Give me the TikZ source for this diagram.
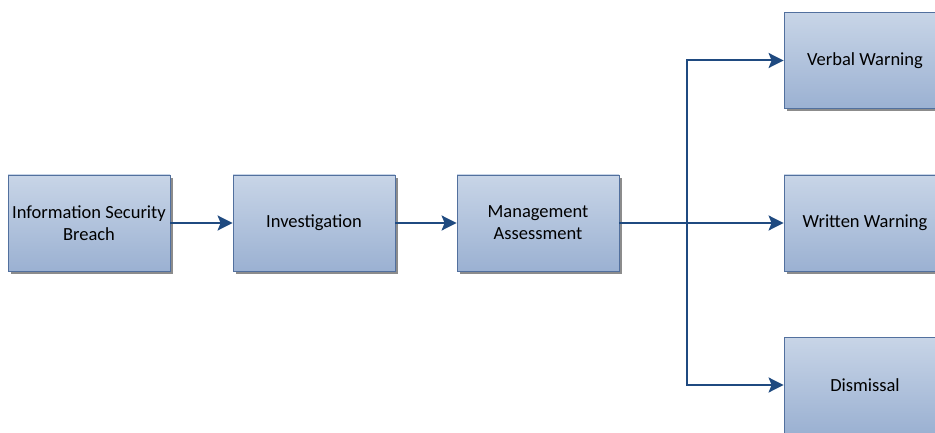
\documentclass[tikz,border=0pt]{standalone}
\usepackage{fontspec}
\setmainfont{Carlito}
\definecolor{boxtop}{HTML}{C8D5E7}
\definecolor{boxbot}{HTML}{9BB1D2}
\definecolor{boxline}{HTML}{52709E}
\definecolor{flow}{HTML}{1F4A80}
\usetikzlibrary{positioning, arrows.meta, shadows}
\newcommand{\oneline}[1]{\raisebox{-2.5pt}{#1}}

\begin{document}
\begin{tikzpicture}[x=1pt, y=-1pt,
  stepbox/.style={draw=boxline, line width=0.8pt, top color=boxtop, bottom color=boxbot,
    minimum width=162pt, minimum height=96pt, inner sep=2pt, align=center,
    font=\fontsize{18.5}{22}\selectfont,
    drop shadow={shadow xshift=3pt, shadow yshift=-3pt, fill=black!45, opacity=1}},
  flowline/.style={draw=flow, line width=2pt, -{Stealth[length=15pt, width=15pt, inset=3pt]}}]
  \useasboundingbox (0,0) rectangle (935,433);
  \clip (0,0) rectangle (935,433);

  % main chain
  \node[stepbox] (breach) at (89,223) {Information Security\\Breach};
  \node[stepbox] (investigation) at (314,223) {\oneline{Investigation}};
  \node[stepbox] (assessment) at (538,223) {Management\\Assessment};

  % outcomes
  \node[stepbox] (verbal) at (865,60.5) {\oneline{Verbal Warning}};
  \node[stepbox] (written) at (865,223) {\oneline{Written Warning}};
  \node[stepbox] (dismissal) at (865,385) {\oneline{Dismissal}};

  % connectors
  \coordinate (branch) at (687,223);
  \draw[flowline] (breach) -- (investigation);
  \draw[flowline] (investigation) -- (assessment);
  \draw[flowline] (assessment) -- (written);
  \draw[flowline] (branch) |- (verbal);
  \draw[flowline] (branch) |- (dismissal);
\end{tikzpicture}
\end{document}
